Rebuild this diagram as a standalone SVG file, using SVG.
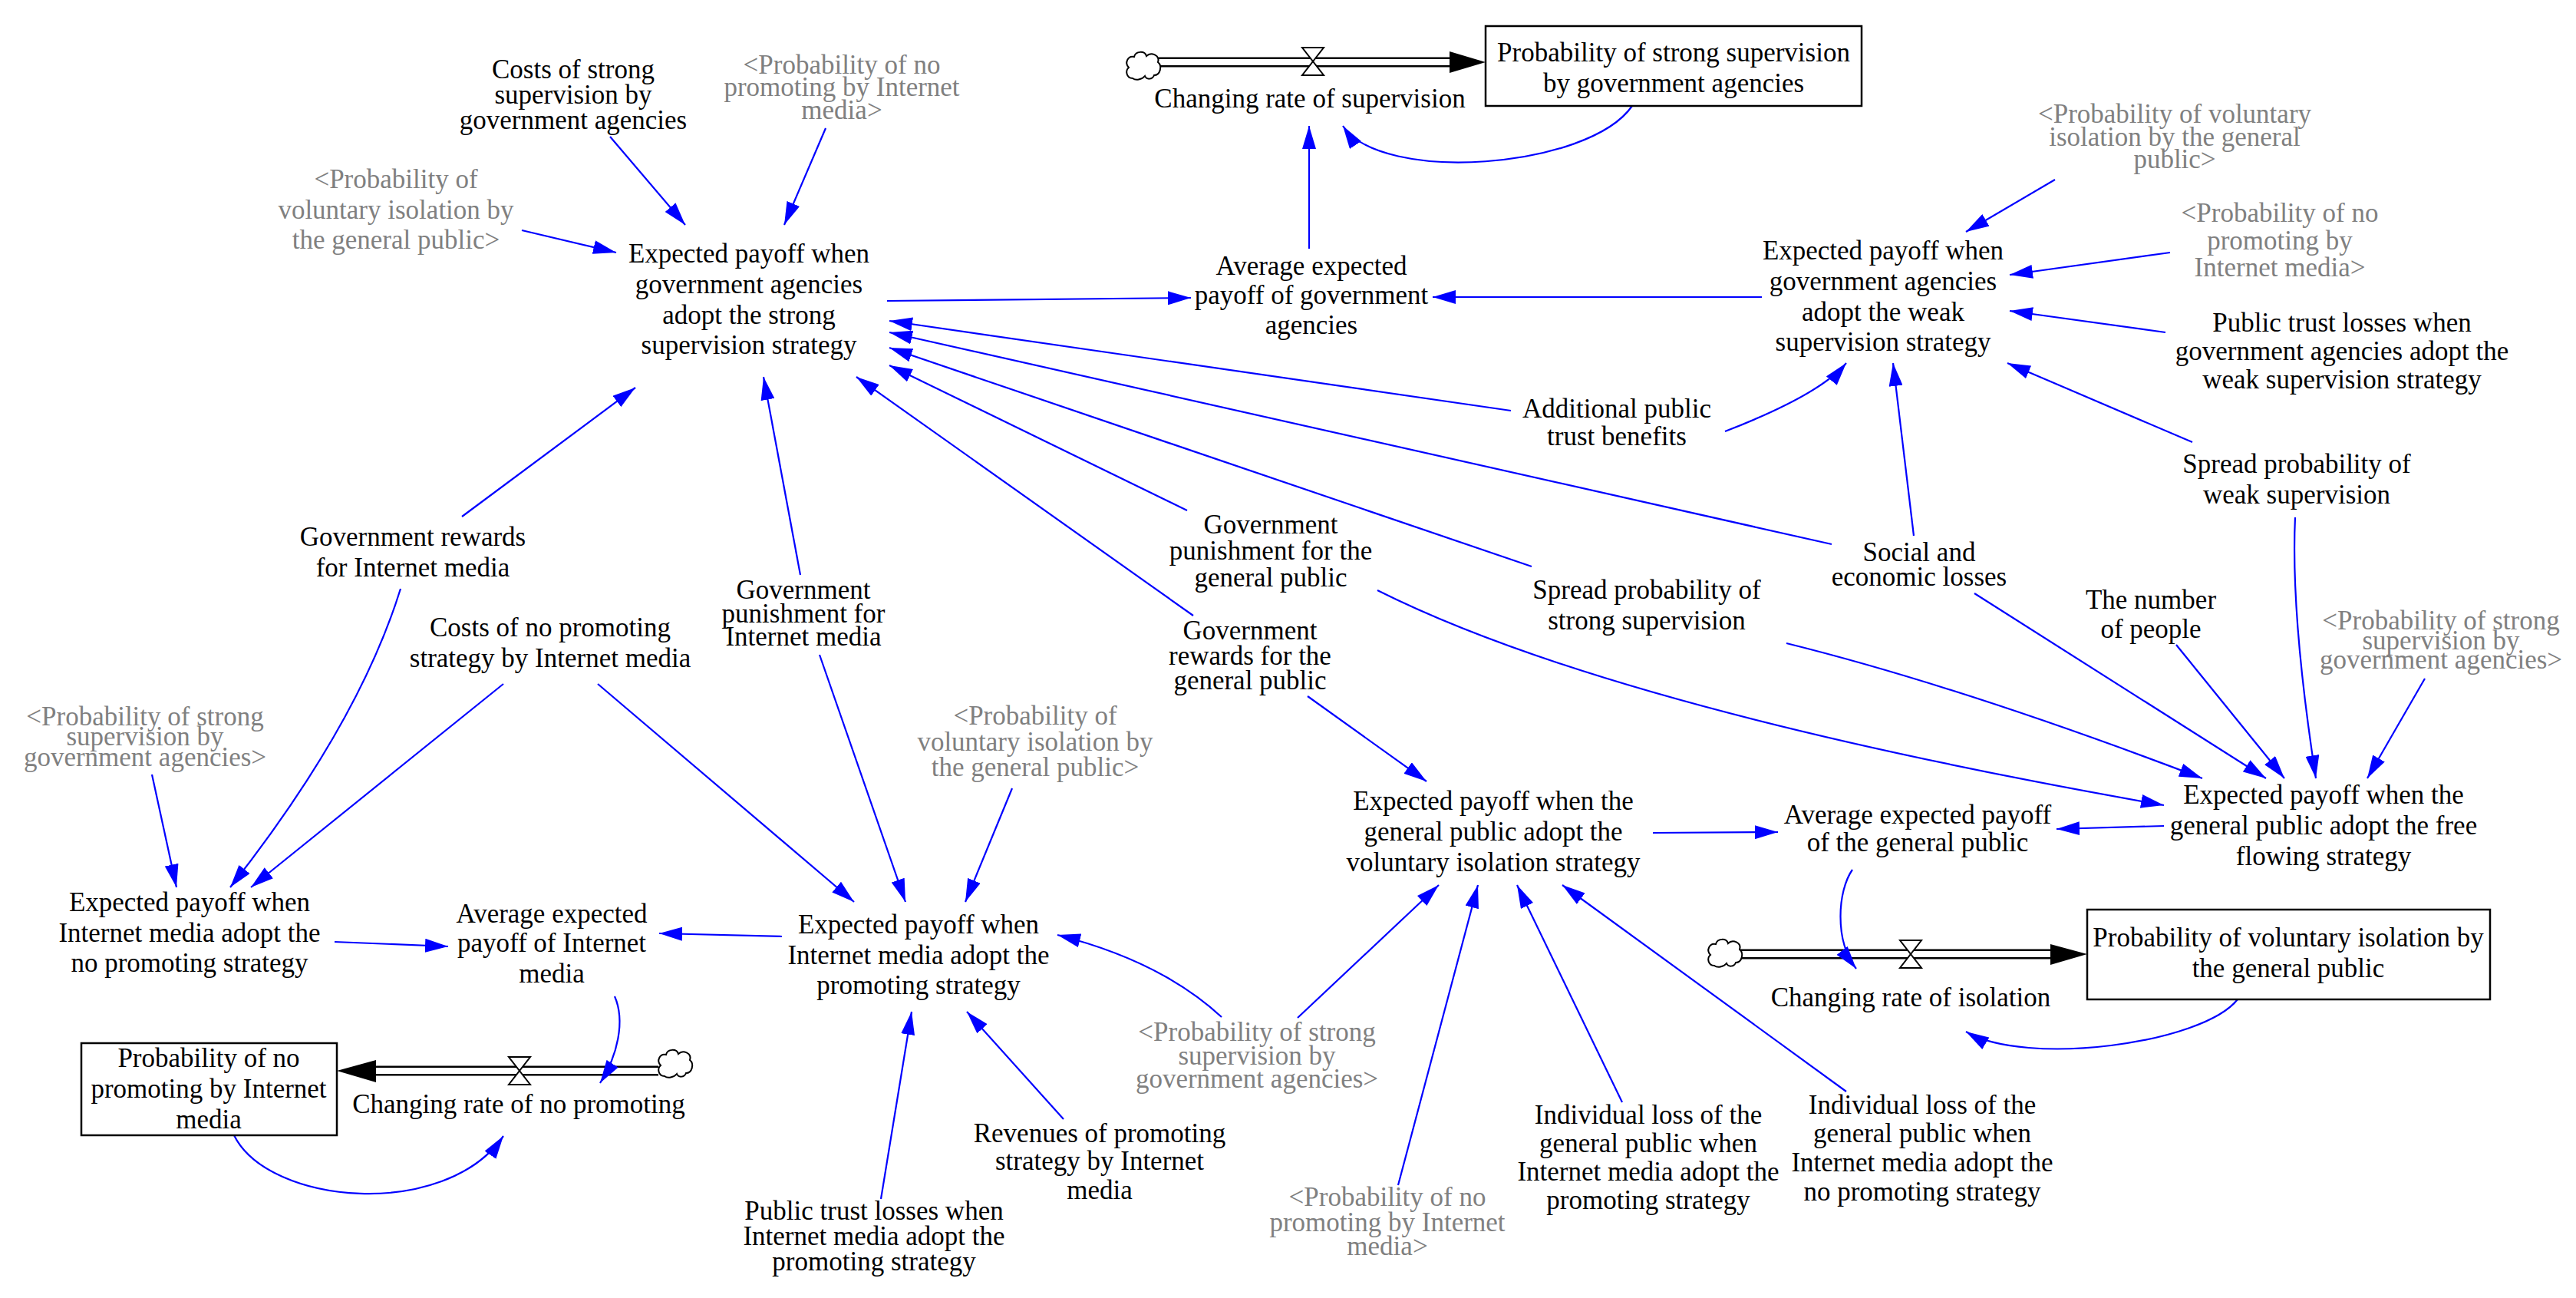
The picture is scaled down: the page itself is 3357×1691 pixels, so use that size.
<svg xmlns="http://www.w3.org/2000/svg" width="3357" height="1691" viewBox="0 0 3357 1691">
<style>
.t{font-family:"Liberation Serif","Times New Roman",serif;font-size:35px;fill:#000;text-anchor:middle}
.g{fill:#808080}
.a{stroke:#0000ff;stroke-width:2.2;fill:none;marker-end:url(#ah)}
.box{fill:#fff;stroke:#000;stroke-width:2.5}
.pipeo{stroke:#000;stroke-width:13;fill:none}
.pipei{stroke:#fff;stroke-width:8;fill:none}
.valve{fill:#fff;stroke:#000;stroke-width:2}
.cloud{fill:#fff;stroke:#000;stroke-width:2}
</style>
<defs>
<marker id="ah" viewBox="0 0 30 18" refX="30" refY="9" markerWidth="30" markerHeight="18" markerUnits="userSpaceOnUse" orient="auto">
<path d="M0,0 L30,9 L0,18 z" fill="#0000ff"/>
</marker>
<path id="cl" d="M -14,16 C -22,16 -24,6 -19,2 C -25,-4 -20,-14 -12,-12 C -10,-20 2,-20 4,-13 C 10,-19 22,-14 19,-5 C 25,0 22,12 14,12 C 12,18 4,18 2,13 C -2,18 -10,19 -14,16 Z"/>
<polygon id="vl" points="-14,-18 14,-18 -14,18 14,18"/>
</defs>
<rect width="3357" height="1691" fill="#fff"/>

<g id="connectors">
<!-- flows -->
<g id="flow-supervision">
<line class="pipeo" x1="1510" y1="81" x2="1892" y2="81"/>
<line class="pipei" x1="1508" y1="81" x2="1894" y2="81"/>
<polygon points="1889,67 1936,81 1889,95" fill="#000"/>
<use href="#cl" class="cloud" x="1490" y="86"/>
<use href="#vl" class="valve" x="1711" y="80"/>
</g>
<g id="flow-nopromoting">
<line class="pipeo" x1="858" y1="1395" x2="487" y2="1395"/>
<line class="pipei" x1="860" y1="1395" x2="485" y2="1395"/>
<polygon points="490,1381 439,1395 490,1410" fill="#000"/>
<use href="#cl" class="cloud" x="880" y="1386"/>
<use href="#vl" class="valve" x="677" y="1395"/>
</g>
<g id="flow-isolation">
<line class="pipeo" x1="2267" y1="1243" x2="2675" y2="1243"/>
<line class="pipei" x1="2265" y1="1243" x2="2677" y2="1243"/>
<polygon points="2672,1230 2720,1243 2672,1257" fill="#000"/>
<use href="#cl" class="cloud" x="2248" y="1242"/>
<use href="#vl" class="valve" x="2490" y="1243"/>
</g>

<!-- into E -->
<path class="a" d="M795,178 L893,293"/>
<path class="a" d="M1076,167 L1022,293"/>
<path class="a" d="M680,300 L803,329"/>
<path class="a" d="M1969,535 L1159,418"/>
<path class="a" d="M2387,709 L1159,433"/>
<path class="a" d="M1996,738 L1159,453"/>
<path class="a" d="M1547,665 L1159,476"/>
<path class="a" d="M1555,802 L1116,491"/>
<path class="a" d="M1043,749 L995,491"/>
<path class="a" d="M602,673 L828,505"/>
<!-- to D and changing rate -->
<path class="a" d="M1156,392 L1552,388"/>
<path class="a" d="M2296,387 L1867,387"/>
<path class="a" d="M1706,324 L1706,164"/>
<path class="a" d="M2127,138 C2070,220 1800,240 1750,164"/>
<!-- into AC -->
<path class="a" d="M2678,234 L2562,302"/>
<path class="a" d="M2828,329 L2619,358"/>
<path class="a" d="M2822,433 L2619,405"/>
<path class="a" d="M2857,576 L2616,473"/>
<path class="a" d="M2248,562 Q2372,514 2406,473"/>
<path class="a" d="M2494,698 L2467,473"/>
<!-- into Z -->
<path class="a" d="M1795,769 Q2102,923 2820,1049"/>
<path class="a" d="M2328,838 Q2558,895 2870,1014"/>
<path class="a" d="M2573,773 L2953,1014"/>
<path class="a" d="M2836,840 L2977,1014"/>
<path class="a" d="M2991,674 Q2985,800 3018,1014"/>
<path class="a" d="M3160,884 L3085,1014"/>
<path class="a" d="M2820,1076 L2680,1080"/>
<!-- into S -->
<path class="a" d="M1704,907 L1859,1018"/>
<path class="a" d="M1691,1326 L1875,1153"/>
<path class="a" d="M1822,1544 L1926,1153"/>
<path class="a" d="M2114,1436 L1977,1153"/>
<path class="a" d="M2406,1422 L2036,1153"/>
<path class="a" d="M2154,1085 L2317,1084"/>
<path class="a" d="M2414,1133 C2395,1160 2390,1225 2419,1262"/>
<path class="a" d="M2916,1302 C2870,1360 2640,1390 2562,1344"/>
<!-- into M -->
<path class="a" d="M198,1009 L230,1156"/>
<path class="a" d="M522,767 Q467,944 300,1156"/>
<path class="a" d="M656,891 L327,1156"/>
<path class="a" d="M436,1227 L584,1233"/>
<!-- into K -->
<path class="a" d="M779,891 L1113,1175"/>
<path class="a" d="M1068,853 L1180,1175"/>
<path class="a" d="M1319,1027 L1258,1175"/>
<path class="a" d="M1592,1325 Q1513,1252 1378,1218"/>
<path class="a" d="M1148,1562 L1188,1318"/>
<path class="a" d="M1386,1458 L1260,1318"/>
<path class="a" d="M1019,1220 L859,1216"/>
<path class="a" d="M801,1298 C815,1330 805,1375 782,1411"/>
<path class="a" d="M305,1479 C350,1570 580,1590 656,1480"/>
</g>

<g id="costs-strong"><text class="t"><tspan x="747" y="102">Costs of strong</tspan><tspan x="747" y="135">supervision by</tspan><tspan x="747" y="168">government agencies</tspan></text></g>
<g id="shadow-nopromo-top"><text class="t g"><tspan x="1097" y="96">&lt;Probability of no</tspan><tspan x="1097" y="125">promoting by Internet</tspan><tspan x="1097" y="155">media&gt;</tspan></text></g>
<g id="rate-supervision"><text class="t" x="1707" y="140">Changing rate of supervision</text></g>
<g id="stock-supervision"><rect class="box" x="1936" y="34" width="490" height="104"/><text class="t"><tspan x="2181" y="80">Probability of strong supervision</tspan><tspan x="2181" y="120">by government agencies</tspan></text></g>
<g id="avg-gov"><text class="t"><tspan x="1709" y="358">Average expected</tspan><tspan x="1709" y="396">payoff of government</tspan><tspan x="1709" y="435">agencies</tspan></text></g>
<g id="payoff-strong"><text class="t"><tspan x="976" y="342">Expected payoff when</tspan><tspan x="976" y="382">government agencies</tspan><tspan x="976" y="422">adopt the strong</tspan><tspan x="976" y="461">supervision strategy</tspan></text></g>
<g id="shadow-iso-left"><text class="t g"><tspan x="516" y="245">&lt;Probability of</tspan><tspan x="516" y="285">voluntary isolation by</tspan><tspan x="516" y="324">the general public&gt;</tspan></text></g>
<g id="payoff-weak"><text class="t"><tspan x="2454" y="338">Expected payoff when</tspan><tspan x="2454" y="378">government agencies</tspan><tspan x="2454" y="418">adopt the weak</tspan><tspan x="2454" y="457">supervision strategy</tspan></text></g>
<g id="shadow-iso-right"><text class="t g"><tspan x="2834" y="160">&lt;Probability of voluntary</tspan><tspan x="2834" y="190">isolation by the general</tspan><tspan x="2834" y="219">public&gt;</tspan></text></g>
<g id="shadow-nopromo-right"><text class="t g"><tspan x="2971" y="289">&lt;Probability of no</tspan><tspan x="2971" y="325">promoting by</tspan><tspan x="2971" y="360">Internet media&gt;</tspan></text></g>
<g id="trust-weak"><text class="t"><tspan x="3052" y="432">Public trust losses when</tspan><tspan x="3052" y="469">government agencies adopt the</tspan><tspan x="3052" y="506">weak supervision strategy</tspan></text></g>
<g id="additional-trust"><text class="t"><tspan x="2107" y="544">Additional public</tspan><tspan x="2107" y="580">trust benefits</tspan></text></g>
<g id="spread-weak"><text class="t"><tspan x="2993" y="616">Spread probability of</tspan><tspan x="2993" y="656">weak supervision</tspan></text></g>
<g id="social-losses"><text class="t"><tspan x="2501" y="731">Social and</tspan><tspan x="2501" y="763">economic losses</tspan></text></g>
<g id="spread-strong"><text class="t"><tspan x="2146" y="780">Spread probability of</tspan><tspan x="2146" y="820">strong supervision</tspan></text></g>
<g id="punish-public"><text class="t"><tspan x="1656" y="695">Government</tspan><tspan x="1656" y="729">punishment for the</tspan><tspan x="1656" y="764">general public</tspan></text></g>
<g id="reward-public"><text class="t"><tspan x="1629" y="833">Government</tspan><tspan x="1629" y="866">rewards for the</tspan><tspan x="1629" y="898">general public</tspan></text></g>
<g id="punish-media"><text class="t"><tspan x="1047" y="780">Government</tspan><tspan x="1047" y="811">punishment for</tspan><tspan x="1047" y="841">Internet media</tspan></text></g>
<g id="reward-media"><text class="t"><tspan x="538" y="711">Government rewards</tspan><tspan x="538" y="751">for Internet media</tspan></text></g>
<g id="costs-nopromo"><text class="t"><tspan x="717" y="829">Costs of no promoting</tspan><tspan x="717" y="869">strategy by Internet media</tspan></text></g>
<g id="number-people"><text class="t"><tspan x="2803" y="793">The number</tspan><tspan x="2803" y="831">of people</tspan></text></g>
<g id="shadow-strong-right"><text class="t g"><tspan x="3181" y="820">&lt;Probability of strong</tspan><tspan x="3181" y="846">supervision by</tspan><tspan x="3181" y="871">government agencies&gt;</tspan></text></g>
<g id="shadow-strong-left"><text class="t g"><tspan x="189" y="945">&lt;Probability of strong</tspan><tspan x="189" y="971">supervision by</tspan><tspan x="189" y="998">government agencies&gt;</tspan></text></g>
<g id="shadow-iso-mid"><text class="t g"><tspan x="1349" y="944">&lt;Probability of</tspan><tspan x="1349" y="978">voluntary isolation by</tspan><tspan x="1349" y="1011">the general public&gt;</tspan></text></g>
<g id="payoff-isolation"><text class="t"><tspan x="1946" y="1055">Expected payoff when the</tspan><tspan x="1946" y="1095">general public adopt the</tspan><tspan x="1946" y="1135">voluntary isolation strategy</tspan></text></g>
<g id="payoff-free"><text class="t"><tspan x="3028" y="1047">Expected payoff when the</tspan><tspan x="3028" y="1087">general public adopt the free</tspan><tspan x="3028" y="1127">flowing strategy</tspan></text></g>
<g id="avg-public"><text class="t"><tspan x="2499" y="1073">Average expected payoff</tspan><tspan x="2499" y="1109">of the general public</tspan></text></g>
<g id="payoff-nopromo"><text class="t"><tspan x="247" y="1187">Expected payoff when</tspan><tspan x="247" y="1227">Internet media adopt the</tspan><tspan x="247" y="1266">no promoting strategy</tspan></text></g>
<g id="avg-media"><text class="t"><tspan x="719" y="1202">Average expected</tspan><tspan x="719" y="1240">payoff of Internet</tspan><tspan x="719" y="1280">media</tspan></text></g>
<g id="payoff-promo"><text class="t"><tspan x="1197" y="1216">Expected payoff when</tspan><tspan x="1197" y="1256">Internet media adopt the</tspan><tspan x="1197" y="1295">promoting strategy</tspan></text></g>
<g id="stock-nopromo"><rect class="box" x="106" y="1359" width="333" height="120"/><text class="t"><tspan x="272" y="1390">Probability of no</tspan><tspan x="272" y="1430">promoting by Internet</tspan><tspan x="272" y="1470">media</tspan></text></g>
<g id="rate-nopromo"><text class="t" x="676" y="1450">Changing rate of no promoting</text></g>
<g id="shadow-strong-mid"><text class="t g"><tspan x="1638" y="1356">&lt;Probability of strong</tspan><tspan x="1638" y="1387">supervision by</tspan><tspan x="1638" y="1417">government agencies&gt;</tspan></text></g>
<g id="revenues-promo"><text class="t"><tspan x="1433" y="1488">Revenues of promoting</tspan><tspan x="1433" y="1524">strategy by Internet</tspan><tspan x="1433" y="1562">media</tspan></text></g>
<g id="trust-media"><text class="t"><tspan x="1139" y="1589">Public trust losses when</tspan><tspan x="1139" y="1622">Internet media adopt the</tspan><tspan x="1139" y="1655">promoting strategy</tspan></text></g>
<g id="shadow-nopromo-bottom"><text class="t g"><tspan x="1808" y="1571">&lt;Probability of no</tspan><tspan x="1808" y="1604">promoting by Internet</tspan><tspan x="1808" y="1635">media&gt;</tspan></text></g>
<g id="loss-promo"><text class="t"><tspan x="2148" y="1464">Individual loss of the</tspan><tspan x="2148" y="1501">general public when</tspan><tspan x="2148" y="1538">Internet media adopt the</tspan><tspan x="2148" y="1575">promoting strategy</tspan></text></g>
<g id="loss-nopromo"><text class="t"><tspan x="2505" y="1451">Individual loss of the</tspan><tspan x="2505" y="1488">general public when</tspan><tspan x="2505" y="1526">Internet media adopt the</tspan><tspan x="2505" y="1564">no promoting strategy</tspan></text></g>
<g id="stock-isolation"><rect class="box" x="2720" y="1185" width="525" height="117"/><text class="t"><tspan x="2982" y="1233">Probability of voluntary isolation by</tspan><tspan x="2982" y="1273">the general public</tspan></text></g>
<g id="rate-isolation"><text class="t" x="2490" y="1311">Changing rate of isolation</text></g>
</svg>
